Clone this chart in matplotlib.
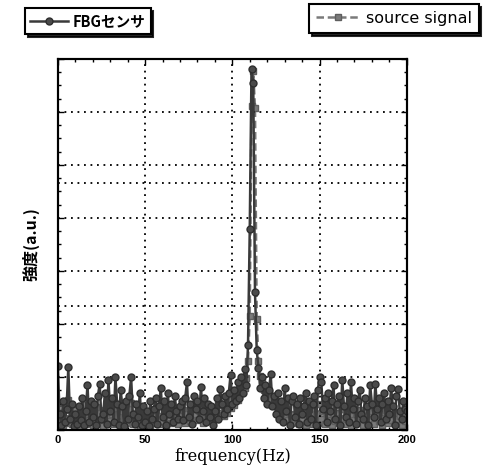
import numpy as np
import matplotlib
matplotlib.use("Agg")
import matplotlib.pyplot as plt
from matplotlib.lines import Line2D
from matplotlib.ticker import MultipleLocator, NullFormatter

plt.rcParams['font.family'] = ['DejaVu Sans']

# frequency axis, 1 Hz steps
freq = np.arange(0, 201, 1)

# FBGセンサ spectrum (arb. units, left scale 0-7)
fbg = [
    1.20, 0.30, 0.10, 0.55, 0.15, 0.40, 1.18, 0.20, 0.50, 0.08,
    0.30, 0.12, 0.45, 0.18, 0.60, 0.10, 0.35, 0.85, 0.15, 0.55,
    0.25, 0.50, 0.10, 0.65, 0.87, 0.20, 0.30, 0.70, 0.12, 0.95,
    0.35, 0.60, 0.15, 1.00, 0.50, 0.10, 0.75, 0.45, 0.08, 0.55,
    0.20, 0.65, 1.00, 0.30, 0.12, 0.50, 0.25, 0.70, 0.10, 0.45,
    0.15, 0.35, 0.08, 0.55, 0.20, 0.40, 0.60, 0.12, 0.45, 0.80,
    0.25, 0.55, 0.10, 0.70, 0.30, 0.50, 0.15, 0.65, 0.35, 0.20,
    0.45, 0.55, 0.18, 0.60, 0.90, 0.25, 0.50, 0.12, 0.65, 0.40,
    0.55, 0.20, 0.82, 0.35, 0.60, 0.15, 0.50, 0.25, 0.45, 0.10,
    0.35, 0.60, 0.20, 0.78, 0.50, 0.30, 0.65, 0.40, 0.70, 1.04,
    0.50, 0.75, 0.55, 0.90, 0.60, 1.00, 0.70, 1.15, 0.85, 1.60,
    3.80, 6.80, 6.55, 2.60, 1.50, 1.17, 0.80, 1.00, 0.60, 0.85,
    0.50, 0.75, 1.05, 0.45, 0.65, 0.30, 0.70, 0.20, 0.55, 0.15,
    0.80, 0.35, 0.60, 0.10, 0.55, 0.65, 0.25, 0.50, 0.12, 0.60,
    0.30, 0.45, 0.70, 0.15, 0.55, 0.20, 0.50, 0.65, 0.10, 0.75,
    1.00, 0.90, 0.40, 0.60, 0.15, 0.70, 0.35, 0.55, 0.85, 0.20,
    0.50, 0.65, 0.10, 0.95, 0.45, 0.25, 0.70, 0.15, 0.90, 0.40,
    0.60, 0.12, 0.55, 0.75, 0.30, 0.20, 0.60, 0.45, 0.10, 0.85,
    0.50, 0.25, 0.87, 0.40, 0.60, 0.15, 0.50, 0.70, 0.20, 0.55,
    0.30, 0.80, 0.45, 0.10, 0.65, 0.78, 0.35, 0.20, 0.55, 0.40,
    0.35,
]

# source signal spectrum (arb. units, right scale 0-3)
source = [
    0.22, 0.08, 0.14, 0.04, 0.18, 0.06, 0.24, 0.10, 0.05, 0.16,
    0.07, 0.12, 0.03, 0.15, 0.09, 0.20, 0.05, 0.13, 0.08, 0.17,
    0.04, 0.11, 0.19, 0.06, 0.14, 0.09, 0.03, 0.16, 0.10, 0.21,
    0.07, 0.13, 0.05, 0.18, 0.08, 0.12, 0.04, 0.15, 0.10, 0.06,
    0.17, 0.09, 0.22, 0.05, 0.11, 0.07, 0.14, 0.03, 0.10, 0.06,
    0.12, 0.04, 0.09, 0.02, 0.13, 0.06, 0.15, 0.08, 0.05, 0.11,
    0.07, 0.14, 0.04, 0.10, 0.17, 0.06, 0.12, 0.08, 0.15, 0.05,
    0.11, 0.09, 0.16, 0.06, 0.13, 0.10, 0.07, 0.18, 0.09, 0.12,
    0.08, 0.15, 0.10, 0.06, 0.14, 0.11, 0.19, 0.08, 0.13, 0.10,
    0.16, 0.09, 0.14, 0.12, 0.20, 0.11, 0.17, 0.14, 0.22, 0.18,
    0.25, 0.20, 0.28, 0.24, 0.32, 0.30, 0.36, 0.34, 0.42, 0.56,
    0.92, 2.62, 2.90, 2.60, 0.90, 0.56, 0.44, 0.40, 0.32, 0.35,
    0.28, 0.30, 0.24, 0.26, 0.20, 0.22, 0.16, 0.19, 0.13, 0.17,
    0.10, 0.15, 0.08, 0.13, 0.06, 0.12, 0.09, 0.16, 0.05, 0.11,
    0.08, 0.14, 0.04, 0.12, 0.07, 0.17, 0.05, 0.10, 0.13, 0.06,
    0.21, 0.09, 0.15, 0.05, 0.12, 0.08, 0.18, 0.04, 0.11, 0.07,
    0.14, 0.06, 0.10, 0.17, 0.05, 0.12, 0.09, 0.15, 0.03, 0.11,
    0.08, 0.13, 0.06, 0.16, 0.10, 0.04, 0.14, 0.07, 0.12, 0.09,
    0.15, 0.05, 0.11, 0.18, 0.07, 0.13, 0.04, 0.10, 0.16, 0.06,
    0.12, 0.08, 0.17, 0.05, 0.14, 0.09, 0.11, 0.04, 0.13, 0.07,
    0.10,
]

xticks = [0, 50, 100, 150, 200]
fbg_label = "FBGセンサ"
source_label = "source signal"

fig = plt.figure(figsize=(4.86, 4.71), dpi=100)
ax = fig.add_axes([0.119, 0.087, 0.718, 0.788])
ax2 = ax.twinx()

# source on the right-hand scale, FBG drawn above it
ax2.plot(freq, source, color="#7a7a7a", lw=1.8, ls=(0, (3, 1.5)),
         marker="s", ms=5, mfc="#7a7a7a", mec="#5e5e5e")
ax.plot(freq, fbg, color="#3a3a3a", lw=1.8,
        marker="o", ms=5, mfc="#4a4a4a", mec="#2e2e2e")
ax.set_zorder(ax2.get_zorder() + 1)
ax.patch.set_visible(False)

ax.set_xlim(0, 200)
ax.set_ylim(0, 7)
ax2.set_ylim(0, 3)

dots = dict(color="black", lw=1.3, ls=(0, (1, 2.6)))
ax.set_xticks(xticks)
ax.xaxis.set_minor_locator(MultipleLocator(10))
ax.yaxis.set_major_locator(MultipleLocator(1))
ax.yaxis.set_minor_locator(MultipleLocator(0.25))
ax.yaxis.set_major_formatter(NullFormatter())
ax.grid(True, which="major", **dots)
ax2.yaxis.set_major_locator(MultipleLocator(1))
ax2.yaxis.set_major_formatter(NullFormatter())
ax2.grid(True, axis="y", **dots)
ax2.tick_params(axis="y", length=0)

ax.tick_params(which="both", direction="in", top=True, right=True, width=1)
ax.tick_params(which="major", length=4)
ax.tick_params(which="minor", length=2.5)
for lab in ax.get_xticklabels():
    lab.set_fontweight("bold")
    lab.set_fontsize(8)
    lab.set_family("Liberation Sans")

for a in (ax, ax2):
    for sp in a.spines.values():
        sp.set_linewidth(1.5)

ax.set_xlabel("frequency(Hz)", family="DejaVu Serif", fontsize=11.5, labelpad=2)
ax.set_ylabel("強度(a.u.)", family=["Noto Sans CJK JP", "DejaVu Sans"],
              fontweight="bold", fontsize=11.5, labelpad=10)

h1 = Line2D([], [], color="#3a3a3a", lw=1.8, marker="o", ms=5,
            mfc="#4a4a4a", mec="#2e2e2e")
h2 = Line2D([], [], color="#7a7a7a", lw=1.8, ls=(0, (3, 1.5)), marker="s",
            ms=5, mfc="#7a7a7a", mec="#5e5e5e")
shadow = {"color": "black", "alpha": 0.85}
leg1 = fig.legend([h1], [fbg_label], loc="upper left",
                  bbox_to_anchor=(0.052, 0.983), borderaxespad=0,
                  fancybox=False, shadow=shadow, handlelength=2.6,
                  borderpad=0.35, handletextpad=0.3,
                  prop={"family": ["Noto Sans CJK JP", "DejaVu Sans"],
                        "weight": "bold", "size": 10.5})
leg2 = fig.legend([h2], [source_label], loc="upper right",
                  bbox_to_anchor=(0.985, 0.992), borderaxespad=0,
                  fancybox=False, shadow=shadow, handlelength=2.8,
                  borderpad=0.45, handletextpad=0.3,
                  prop={"family": "DejaVu Sans", "size": 11.5})
for lg in (leg1, leg2):
    fr = lg.get_frame()
    fr.set_edgecolor("black")
    fr.set_linewidth(1.5)
    fr.set_alpha(1)

fig.savefig("out.png", dpi=100)
